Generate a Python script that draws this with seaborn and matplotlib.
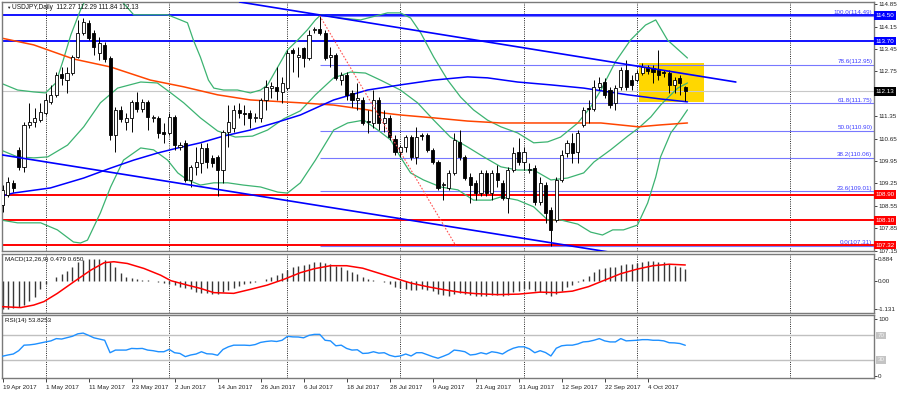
import numpy as np
import pandas as pd
import matplotlib.pyplot as plt
import matplotlib.transforms as mtransforms
import seaborn as sns

sns.set_style('white')
plt.rcParams['font.family'] = ['Liberation Sans', 'DejaVu Sans']

# ---- USDJPY daily candles, 19 Apr 2017 .. 13 Oct 2017 ----
opens = [108.58, 108.89, 109.27, 110.30, 109.77, 111.08, 111.17, 111.23, 111.45, 111.80,
         112.02, 112.67, 112.48, 112.70, 113.20, 113.95, 114.27, 113.95, 113.33, 113.58,
         113.17, 110.77, 111.55, 111.17, 111.30, 111.80, 111.58, 111.80, 111.30, 111.30,
         110.86, 110.83, 111.33, 110.39, 110.52, 109.36, 109.77, 109.89, 110.36, 110.05,
         110.08, 109.67, 110.86, 110.98, 111.55, 111.45, 111.45, 111.30, 111.30, 111.86,
         112.23, 112.27, 112.11, 112.23, 113.42, 113.20, 113.48, 113.17, 114.05, 114.08,
         113.95, 113.20, 113.27, 112.48, 112.64, 112.08, 111.86, 111.86, 111.20, 111.14,
         111.86, 111.14, 111.30, 110.64, 110.23, 110.39, 110.70, 110.08, 110.77, 110.77,
         110.30, 109.92, 109.20, 109.11, 109.58, 110.55, 110.08, 109.45, 109.27, 108.95,
         109.58, 108.95, 109.58, 109.27, 108.80, 109.67, 110.23, 109.92, 109.67, 109.73,
         108.67, 109.20, 108.42, 108.11, 109.36, 110.20, 110.52, 110.23, 111.08, 111.61,
         111.58, 112.27, 112.42, 112.17, 111.77, 112.27, 112.80, 112.48, 112.48, 112.70,
         112.89, 112.86, 112.80, 112.73, 112.70, 112.33, 112.55, 112.27]
highs = [109.20, 109.45, 109.36, 110.39, 111.17, 111.77, 111.61, 111.77, 112.08, 112.33,
         112.73, 112.89, 112.89, 113.27, 114.36, 114.42, 114.36, 114.05, 113.83, 113.67,
         113.23, 111.64, 111.67, 111.45, 111.86, 112.11, 111.89, 111.86, 111.39, 111.36,
         111.14, 111.45, 111.39, 110.55, 110.61, 109.83, 110.39, 110.52, 110.52, 110.14,
         110.14, 110.92, 111.70, 111.70, 111.77, 111.70, 111.55, 111.45, 111.92, 112.48,
         112.42, 112.89, 112.58, 113.42, 113.48, 113.52, 113.52, 114.05, 114.14, 114.49,
         114.05, 113.52, 113.33, 112.73, 112.73, 112.17, 112.39, 111.95, 111.55, 112.17,
         111.95, 111.55, 111.39, 110.77, 110.45, 110.77, 110.77, 111.02, 110.83, 110.83,
         110.36, 109.98, 109.30, 109.67, 110.83, 110.92, 110.14, 109.58, 109.36, 109.67,
         109.67, 109.67, 109.83, 109.36, 109.77, 110.39, 110.67, 110.39, 109.89, 109.83,
         109.45, 109.30, 108.52, 109.45, 110.30, 110.61, 110.83, 110.92, 111.64, 111.86,
         112.48, 112.58, 112.55, 112.27, 112.33, 112.89, 113.11, 112.64, 112.80, 113.02,
         112.95, 112.95, 113.42, 112.80, 112.80, 112.58, 112.64, 112.29]
lows = [108.36, 108.83, 108.98, 109.67, 109.61, 110.98, 111.02, 111.17, 111.39, 111.73,
        111.95, 112.33, 112.08, 112.64, 113.17, 113.89, 113.73, 113.27, 113.11, 113.05,
        110.61, 110.23, 111.17, 110.92, 110.86, 111.48, 111.48, 110.92, 111.17, 110.67,
        110.52, 110.77, 110.30, 110.30, 109.30, 109.14, 109.52, 109.58, 109.73, 109.77,
        108.86, 109.27, 110.39, 110.86, 111.30, 111.08, 110.98, 111.17, 111.17, 111.55,
        111.92, 111.86, 111.77, 112.17, 112.73, 112.58, 112.89, 113.11, 113.95, 113.89,
        113.11, 112.89, 112.48, 112.33, 111.86, 111.64, 111.55, 111.08, 110.83, 110.98,
        110.92, 110.86, 110.61, 110.14, 110.08, 110.23, 109.98, 109.86, 110.61, 110.23,
        109.86, 109.05, 108.73, 109.05, 109.52, 109.98, 109.36, 108.64, 108.73, 108.86,
        108.86, 108.73, 109.14, 108.73, 108.33, 109.61, 109.83, 109.67, 109.58, 108.58,
        108.58, 108.01, 107.31, 108.05, 109.30, 110.08, 109.89, 109.89, 111.02, 111.14,
        111.52, 112.17, 111.92, 111.61, 111.55, 112.17, 112.17, 112.17, 112.42, 112.64,
        112.67, 112.39, 112.48, 112.58, 112.08, 112.08, 112.02, 111.84]
closes = [109.05, 109.30, 109.11, 109.77, 111.08, 111.17, 111.30, 111.48, 111.86, 112.02,
          112.64, 112.55, 112.70, 113.20, 113.95, 114.30, 113.80, 113.52, 113.64, 113.14,
          110.77, 111.55, 111.27, 111.30, 111.80, 111.58, 111.80, 111.33, 111.33, 110.83,
          110.80, 111.33, 110.45, 110.45, 109.36, 109.77, 109.92, 110.36, 109.92, 109.89,
          109.67, 110.86, 111.17, 111.55, 111.45, 111.42, 111.30, 111.33, 111.86, 112.27,
          112.30, 112.14, 112.39, 113.33, 113.33, 113.27, 113.17, 113.89, 114.08, 113.95,
          113.17, 113.27, 112.55, 112.64, 112.02, 111.86, 111.92, 111.14, 111.17, 111.86,
          111.14, 111.30, 110.70, 110.23, 110.39, 110.70, 110.08, 110.70, 110.74, 110.30,
          109.92, 109.11, 109.23, 109.58, 110.61, 110.08, 109.42, 109.20, 108.95, 109.58,
          108.95, 109.58, 109.36, 108.80, 109.67, 110.20, 109.92, 110.23, 109.70, 108.67,
          109.27, 108.33, 107.80, 109.36, 110.14, 110.52, 110.20, 110.83, 111.55, 111.58,
          112.27, 112.39, 112.02, 111.70, 112.23, 112.80, 112.27, 112.33, 112.70, 112.89,
          112.77, 112.73, 112.64, 112.70, 112.33, 112.48, 112.39, 112.13]

# Bollinger bands (20) read at sample bars
bb_up_x = [-0.4, 2.8, 5.8, 8.0, 9.9, 11.3, 12.7, 14.5, 15.4, 17.3, 20.1, 22.0, 23.3, 24.4, 27.5, 30.7,
           33.1, 34.4, 35.5, 36.8, 38.3, 39.3, 41.1, 43.7, 46.1, 48.0, 49.3, 51.2, 53.0, 54.9, 56.7,
           58.2, 59.2, 62.9, 66.6, 71.6, 74.0, 75.9, 77.8, 80.2, 82.8, 85.2, 87.6, 90.2, 92.7, 95.8,
           98.8, 101.4, 103.8, 107.0, 109.4, 111.3, 114.0, 116.8, 119.6, 121.5, 123.7, 127.4]
bb_up = [112.39, 112.17, 112.11, 112.08, 112.39, 113.11, 113.89, 114.67, 114.98, 115.23, 115.30,
         114.98, 114.73, 114.52, 114.52, 114.52, 114.36, 114.27, 113.73, 113.20, 112.48, 112.23,
         112.17, 112.17, 112.08, 112.17, 112.33, 112.89, 113.42, 113.73, 114.05, 114.36, 114.52,
         114.42, 114.36, 114.58, 114.58, 114.42, 113.95, 113.20, 112.48, 111.95, 111.55, 111.23,
         111.02, 110.83, 110.52, 110.55, 110.70, 111.14, 111.64, 112.17, 113.05, 113.73, 114.20,
         114.36, 113.73, 113.17]
bb_mid_x = [-0.4, 2.8, 5.8, 8.4, 12.1, 15.1, 18.2, 21.4, 25.7, 28.8, 31.3, 33.7, 36.8, 40.0, 43.3,
            46.5, 49.3, 52.3, 55.4, 58.2, 61.6, 64.7, 67.5, 70.3, 74.0, 77.2, 80.2, 83.3, 86.5, 89.5,
            92.7, 95.8, 98.8, 102.0, 105.1, 108.1, 110.0, 113.1, 116.3, 118.3, 120.6, 122.4, 123.7,
            125.6, 127.4]
bb_mid = [110.30, 110.08, 110.05, 110.08, 110.45, 111.02, 111.77, 112.23, 112.42, 112.39, 112.08,
          111.77, 111.30, 110.89, 110.70, 110.73, 110.92, 111.27, 111.52, 112.02, 112.55, 112.73,
          112.70, 112.48, 112.17, 111.77, 111.23, 110.70, 110.39, 110.08, 109.77, 109.67, 109.67,
          109.36, 109.42, 109.58, 109.92, 110.30, 110.73, 110.98, 111.33, 111.70, 111.92, 112.23,
          112.39]
bb_low_x = [-0.4, 2.8, 7.1, 10.2, 13.2, 14.5, 15.8, 18.2, 20.1, 22.5, 25.7, 28.1, 30.7, 32.6, 34.4,
            36.8, 39.3, 41.9, 44.8, 48.0, 51.2, 53.0, 55.4, 58.2, 61.6, 64.2, 67.2, 69.8, 72.2, 74.0,
            75.9, 78.3, 81.5, 84.7, 87.6, 90.8, 92.7, 95.8, 98.8, 101.4, 103.8, 107.0, 109.4, 111.6,
            113.5, 115.5, 118.1, 120.0, 121.5, 122.4, 124.3, 126.1, 127.4]
bb_low = [108.11, 108.02, 108.02, 107.80, 107.42, 107.39, 107.48, 108.33, 109.14, 109.98, 110.36,
          110.30, 109.98, 109.58, 109.36, 109.20, 109.27, 109.27, 109.20, 109.14, 108.98, 108.95,
          109.27, 109.98, 110.92, 111.14, 111.23, 110.92, 110.61, 110.08, 109.58, 109.36, 109.14,
          109.05, 108.73, 108.73, 108.83, 108.73, 108.52, 108.11, 108.11, 107.98, 107.73, 107.64,
          107.80, 107.80, 107.95, 108.64, 109.45, 110.08, 110.83, 111.23, 111.55]

# moving averages (blue and orange-red)
ma_blue_x = [0.0, 2.0, 8.9, 15.1, 20.1, 24.4, 28.8, 32.6, 36.8, 41.1, 46.1, 51.2, 55.4, 61.6, 67.9,
             74.0, 80.2, 86.5, 90.2, 95.8, 102.0, 108.1, 116.3, 122.4, 127.4]
ma_blue = [108.86, 108.95, 109.11, 109.42, 109.73, 109.98, 110.20, 110.36, 110.52, 110.73, 110.92,
           111.17, 111.39, 111.86, 112.17, 112.33, 112.48, 112.58, 112.55, 112.42, 112.33, 112.23,
           112.02, 111.89, 111.80]
ma_red_x = [-0.4, 5.8, 9.5, 13.2, 20.1, 27.5, 33.7, 40.0, 46.1, 52.3, 55.4, 61.6, 67.9, 70.9, 74.0,
            80.2, 86.5, 92.7, 105.1, 111.3, 118.3, 122.4, 127.4]
ma_red = [113.80, 113.58, 113.36, 113.14, 112.89, 112.48, 112.27, 112.02, 111.86, 111.80, 111.77,
          111.70, 111.55, 111.45, 111.39, 111.30, 111.20, 111.14, 111.14, 111.14, 111.02, 111.08,
          111.14]

# drawn objects
chan_top_x, chan_top_y = [44.1, 136.4], [114.92, 112.42]
chan_bot_x, chan_bot_y = [0.0, 112.7], [110.14, 107.11]
fib_x = [59.0, 84.3]
fib_y = [114.49, 107.31]
fib_names = ['100.0', '78.6', '61.8', '50.0', '38.2', '23.6', '0.0']
fib_prices = [114.49, 112.95, 111.75, 110.90, 110.06, 109.01, 107.31]
blue_levels = [114.50, 113.70]
red_levels = [108.90, 108.10, 107.32]
last_price = 112.13
box_x = [118.3, 130.4]
box_y = [111.78, 113.02]
price_ticks = [114.85, 114.15, 113.45, 112.75, 111.35, 110.65, 109.95, 109.25, 108.55, 107.85, 107.15]

# MACD(12,26,9) histogram and signal
macd = [-1.13, -1.10, -1.06, -1.04, -0.96, -0.80, -0.64, -0.30, -0.10, 0.02,
        0.15, 0.28, 0.42, 0.58, 0.76, 0.86, 0.884, 0.88, 0.88, 0.86,
        0.76, 0.58, 0.34, 0.18, 0.11, 0.07, 0.04, 0.03, 0.02, -0.02,
        -0.09, -0.12, -0.16, -0.22, -0.29, -0.33, -0.42, -0.46, -0.49, -0.52,
        -0.50, -0.44, -0.36, -0.28, -0.20, -0.12, -0.06, -0.02, 0.02, 0.07,
        0.15, 0.24, 0.31, 0.44, 0.55, 0.60, 0.64, 0.70, 0.76, 0.78,
        0.74, 0.70, 0.62, 0.55, 0.46, 0.37, 0.29, 0.18, 0.10, 0.06,
        0.00, -0.04, -0.12, -0.22, -0.28, -0.30, -0.35, -0.35, -0.33, -0.35,
        -0.40, -0.50, -0.56, -0.58, -0.50, -0.47, -0.50, -0.55, -0.60, -0.58,
        -0.60, -0.57, -0.56, -0.60, -0.55, -0.45, -0.38, -0.32, -0.32, -0.40,
        -0.42, -0.50, -0.60, -0.52, -0.38, -0.24, -0.16, -0.05, 0.10, 0.20,
        0.35, 0.47, 0.53, 0.55, 0.58, 0.66, 0.68, 0.70, 0.74, 0.78,
        0.80, 0.80, 0.78, 0.75, 0.68, 0.62, 0.56, 0.479]
signal_x = [-0.4, 3.4, 5.8, 7.7, 10.2, 13.3, 16.4, 18.9, 20.7, 23.2, 26.3, 29.4, 31.3, 34.4, 36.8,
            39.3, 43.0, 46.1, 49.2, 52.3, 55.4, 58, 61, 64, 67, 70, 73, 76, 79, 82, 85, 88, 92, 96,
            100, 103, 106, 109, 112, 115, 118, 121, 124, 127]
signal = [-1.02, -1.06, -0.96, -0.82, -0.49, -0.02, 0.44, 0.74, 0.78, 0.71, 0.51, 0.24, 0.02, -0.16,
          -0.29, -0.46, -0.49, -0.33, -0.16, 0.07, 0.34, 0.50, 0.62, 0.62, 0.52, 0.32, 0.12, -0.08,
          -0.22, -0.34, -0.44, -0.50, -0.54, -0.52, -0.44, -0.46, -0.40, -0.22, 0.04, 0.30, 0.48,
          0.62, 0.68, 0.65]

# RSI(14)
rsi = [36, 38, 39.6, 45, 54, 54.5, 55.6, 57.5, 59.3, 61,
       64.7, 64, 66.3, 68.5, 72.5, 73.7, 70, 66, 64, 62,
       41.7, 46, 46, 46, 48.7, 48.3, 48.7, 46, 45, 43.3,
       43.3, 47.1, 41.7, 40.5, 35.3, 38, 39.6, 43.3, 40, 39.6,
       37.5, 47, 51.3, 54, 54, 54, 53.5, 55, 58.5, 60,
       60.9, 60, 62, 68.4, 67.5, 67.3, 66, 70, 71.6, 71.6,
       62, 61, 53, 54, 48.7, 46, 46.5, 40.5, 41, 43.3,
       41, 41.7, 37.5, 35.3, 36.4, 39.6, 36.4, 41.7, 41.7, 38.5,
       35.3, 32.7, 36, 39.6, 46, 45, 43.3, 38, 39, 41.7,
       39.6, 43.3, 42, 39.6, 45, 49, 51.3, 51.3, 48, 41.7,
       45, 42, 36.4, 49, 53, 54, 54, 56, 59.3, 60,
       62, 64.7, 61, 59.3, 59.3, 64.7, 61, 61.5, 62, 63,
       63, 62, 62, 61, 58, 57.7, 56.7, 53.8253]

# time axis
date_ticks = [0, 8, 16, 24, 32, 40, 48, 56, 64, 72, 80, 88, 96, 104, 112, 120]
date_labels = ['19 Apr 2017', '1 May 2017', '11 May 2017', '23 May 2017', '2 Jun 2017', '14 Jun 2017',
               '26 Jun 2017', '6 Jul 2017', '18 Jul 2017', '28 Jul 2017', '9 Aug 2017', '21 Aug 2017',
               '31 Aug 2017', '12 Sep 2017', '22 Sep 2017', '4 Oct 2017']
month_grid = [8, 31, 53, 74, 97, 118, 146.4]

# ---- figure ----
W, H = 900, 393
fig = plt.figure(figsize=(W / 100, H / 100), dpi=100)
fig.patch.set_facecolor('white')


def px_axes(x0, y0, x1, y1):
    return fig.add_axes([x0 / W, 1 - y1 / H, (x1 - x0) / W, (y1 - y0) / H])


ax = px_axes(2, 2, 874, 251)
ax_macd = px_axes(2, 253.5, 874, 313.3)
ax_rsi = px_axes(2, 314.5, 874, 378.3)

FS = 4.5
XL = (-0.1, 162.1)
for a in (ax, ax_macd, ax_rsi):
    a.set_xlim(*XL)
    a.set_facecolor('white')
    for s in a.spines.values():
        s.set_color('#7a7a7a')
        s.set_linewidth(1.0)
    for g in month_grid:
        a.axvline(g, color='#222222', ls=(0, (1, 1.3)), lw=0.7, zorder=1.2)
    a.yaxis.tick_right()
    a.tick_params(axis='y', which='both', right=True, left=False, labelright=True, labelleft=False,
                  length=2, width=0.6, pad=1, labelsize=FS, colors='#222222')
    a.set_xlabel('')
    a.set_ylabel('')

idx = np.arange(len(closes))

# ---- main price panel ----
ax.set_ylim(107.14, 114.92)
ax.set_yticks(price_ticks)
ax.set_yticklabels([f'{p:.2f}' for p in price_ticks])
ax.tick_params(axis='x', bottom=False, labelbottom=False)

ax.fill_between(box_x, box_y[0], box_y[1], color='#ffd700', lw=0, zorder=1)
ax.axhline(last_price, color='#c8c8c8', lw=0.8, zorder=1.5)

for lvl, name in zip(fib_prices, fib_names):
    ax.hlines(lvl, fib_x[0], XL[1], color='#7878ff', lw=0.8, zorder=1.6)
    ax.text(161.8, lvl + 0.02, f'{name}({lvl:.2f})', ha='right', va='bottom', fontsize=FS,
            color='#3c3cff', zorder=6)
for lvl in blue_levels:
    ax.axhline(lvl, color='#0000ff', lw=1.3, zorder=1.8)
for lvl in red_levels:
    ax.axhline(lvl, color='#ff0000', lw=1.4, zorder=1.8)

green = '#3cb371'
sns.lineplot(x=bb_up_x, y=bb_up, ax=ax, color=green, lw=0.9, zorder=2)
sns.lineplot(x=bb_mid_x, y=bb_mid, ax=ax, color=green, lw=0.9, zorder=2)
sns.lineplot(x=bb_low_x, y=bb_low, ax=ax, color=green, lw=0.9, zorder=2)
sns.lineplot(x=ma_red_x, y=ma_red, ax=ax, color='#ff4500', lw=1.1, zorder=2)
sns.lineplot(x=ma_blue_x, y=ma_blue, ax=ax, color='#0000ff', lw=1.1, zorder=2)

o = np.array(opens)
c = np.array(closes)
up = c >= o
ax.vlines(idx, lows, highs, color='black', lw=0.7, zorder=3)
ax.bar(idx[up], np.maximum(c - o, 0.015)[up], bottom=o[up], width=0.58,
       color='white', edgecolor='black', lw=0.6, zorder=3.5)
ax.bar(idx[~up], np.maximum(o - c, 0.015)[~up], bottom=c[~up], width=0.58,
       color='black', edgecolor='black', lw=0.6, zorder=3.5)

sns.lineplot(x=chan_top_x, y=chan_top_y, ax=ax, color='#0000ff', lw=1.2, zorder=4)
sns.lineplot(x=chan_bot_x, y=chan_bot_y, ax=ax, color='#0000ff', lw=1.2, zorder=4)
ax.plot(fib_x, fib_y, color='#ff5050', ls=(0, (1.5, 1.5)), lw=0.8, zorder=4)

# price boxes on the right scale
btr = mtransforms.blended_transform_factory(ax.transAxes, ax.transData)
boxes = [(p, '#0000ff', 'white') for p in blue_levels] + [(p, '#ff0000', 'white') for p in red_levels] \
    + [(last_price, 'black', 'white')]
for p, bg, fg in boxes:
    ax.text(1.0015, p, f'{p:.2f}', transform=btr, ha='left', va='center', fontsize=FS, color=fg,
            bbox=dict(boxstyle='square,pad=0.28', fc=bg, ec='none'), zorder=7, clip_on=False)

# ---- MACD panel ----
ax_macd.set_ylim(-1.29, 1.11)
ax_macd.vlines(idx, 0, macd, color='#383838', lw=1.0, zorder=2)
sns.lineplot(x=signal_x, y=signal, ax=ax_macd, color='#ff0000', lw=1.1, zorder=3)
ax_macd.set_yticks([0.884, 0.0, -1.131])
ax_macd.set_yticklabels(['0.884', '0.00', '-1.131'])
ax_macd.tick_params(axis='x', bottom=False, labelbottom=False)

# ---- RSI panel ----
ax_rsi.set_ylim(0, 104)
for lvl in (70, 30):
    ax_rsi.axhline(lvl, color='#c0c0c0', lw=1.0, zorder=1.5)
sns.lineplot(x=idx, y=rsi, ax=ax_rsi, color='#1e90ff', lw=1.0, zorder=3)
ax_rsi.set_yticks([96, 4])
ax_rsi.set_yticklabels(['100', '0'])
rtr = mtransforms.blended_transform_factory(ax_rsi.transAxes, ax_rsi.transData)
for lvl in (70, 30):
    ax_rsi.text(1.004, lvl, str(lvl), transform=rtr, ha='left', va='center', fontsize=FS,
                color='#f2f2f2', bbox=dict(boxstyle='square,pad=0.2', fc='#c4c4c4', ec='none'),
                clip_on=False)
ax_rsi.set_xticks(date_ticks)
ax_rsi.set_xticklabels(date_labels, ha='left')
ax_rsi.tick_params(axis='x', bottom=True, length=3, width=0.6, pad=1.5, labelsize=FS, colors='#222222')

# ---- captions ----
fig.text(6 / W, 1 - 7.5 / H, '\u25bc', fontsize=3.2, va='center', ha='left', color='#222222')
fig.text(12.5 / W, 1 - 7.5 / H, 'USDJPY,Daily  112.27 112.29 111.84 112.13', fontsize=4.7,
         va='center', ha='left', color='#111111')
fig.text(5 / W, 1 - 259.5 / H, 'MACD(12,26,9) 0.479 0.650', fontsize=FS, va='center', ha='left',
         color='#111111')
fig.text(5 / W, 1 - 320.5 / H, 'RSI(14) 53.8253', fontsize=FS, va='center', ha='left', color='#111111')

fig.savefig('out.png', dpi=100, facecolor='white')
